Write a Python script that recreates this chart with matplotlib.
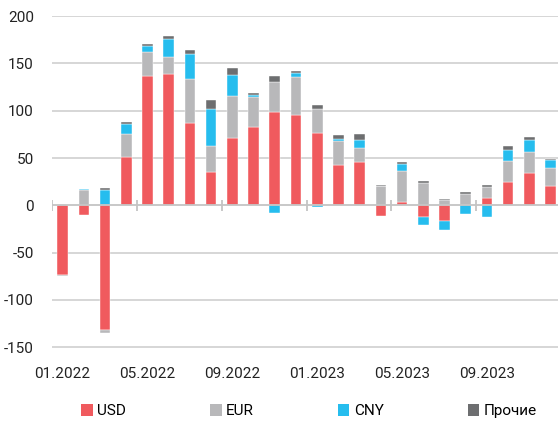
import matplotlib
matplotlib.use("Agg")
from matplotlib import pyplot as plt
from matplotlib.patches import Patch
import numpy as np

plt.rcParams['font.family'] = ['Roboto', 'DejaVu Sans']
plt.rcParams['axes.unicode_minus'] = False

# Monthly values, bn
months = ["01.2022", "02.2022", "03.2022", "04.2022", "05.2022", "06.2022",
          "07.2022", "08.2022", "09.2022", "10.2022", "11.2022", "12.2022",
          "01.2023", "02.2023", "03.2023", "04.2023", "05.2023", "06.2023",
          "07.2023", "08.2023", "09.2023", "10.2023", "11.2023", "12.2023"]
usd = [-74, -10.5, -131.5, 51, 137, 138.5, 87, 35, 71.5, 83, 98.5, 95.5,
       76.5, 42.5, 45.5, -11, 3.5, -12.5, -17, 0, 7.5, 24.5, 34, 20.5]
eur = [-1, 16.5, -4, 24, 25.5, 18, 47, 27.5, 44, 31.5, 32, 40,
       25, 26, 15.5, 20, 33, 23.5, 5.5, 12, 12, 22, 22, 19]
cny = [0, 1, 16, 11.5, 5.5, 19, 26, 39, 22.5, 2, -8, 4,
       -1.5, 2, 8.5, 0, 7.5, -8.5, -9, -9, -12, 12, 13.5, 8]
other = [0, 0, 2.5, 2, 2.5, 4, 4, 10, 7, 2.5, 6, 2.5,
         5, 4, 5.5, 1.5, 2, 2.5, 1.5, 1.7, 2, 4, 3, 1.5]

series = [("USD", usd, "#F05A5E"), ("EUR", eur, "#B8B8BA"),
          ("CNY", cny, "#26BDEE"), ("Прочие", other, "#6D6E70")]

fig = plt.figure(figsize=(5.58, 4.24), dpi=100)
ax = fig.add_axes([0.0932, 0.180, 0.9068, 0.783])

x = np.arange(len(months))
pos = np.zeros(len(months))
neg = np.zeros(len(months))
for name, vals, col in series:
    v = np.array(vals, dtype=float)
    base = np.where(v >= 0, pos, neg)
    ax.bar(x, v, 0.5, bottom=base, color=col, edgecolor="white", linewidth=0.3, zorder=3)
    pos += np.where(v >= 0, v, 0)
    neg += np.where(v < 0, v, 0)

# grid and zero line
for yv in [-150, -100, -50, 50, 100, 150, 200]:
    ax.axhline(yv, color="#D3D3D3", lw=1.3, zorder=1)
ax.axhline(0, color="#C4C4C4", lw=1.3, zorder=4)
bounds = x[::4] - 0.5
ax.vlines(bounds, -5.5, 5.5, color="#C4C4C4", lw=1.3, zorder=4)

ax.set_xlim(-0.5, 23.35)
ax.set_ylim(-150.5, 200.5)
ax.set_yticks([-150, -100, -50, 0, 50, 100, 150, 200])
ax.set_xticks(x[::4])
ax.set_xticklabels(months[::4])
ax.tick_params(axis="both", length=0, labelsize=11, colors="#222222")
ax.tick_params(axis="y", pad=13)
ax.tick_params(axis="x", pad=14)
for s in ax.spines.values():
    s.set_visible(False)

handles = [Patch(facecolor=c, label=n) for n, _, c in series]
fig.legend(handles=handles, loc="center", bbox_to_anchor=(0.554, 0.03), ncol=4,
           frameon=False, fontsize=11, handlelength=0.75, handleheight=0.75,
           handletextpad=0.3, columnspacing=5.5)

fig.savefig("out.png", dpi=100)
